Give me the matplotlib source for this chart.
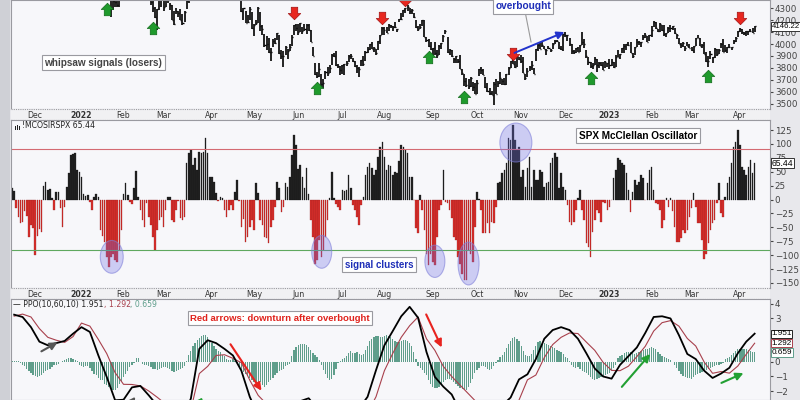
import numpy as np
import pandas as pd
import matplotlib
matplotlib.use("Agg")
import matplotlib.pyplot as plt
from matplotlib.patches import Ellipse, Rectangle
from matplotlib.path import Path

# trading calendar (NYSE holidays in the window)
holidays = ["2021-11-25", "2021-12-24", "2022-01-17", "2022-02-21", "2022-04-15",
            "2022-05-30", "2022-06-20", "2022-07-04", "2022-09-05", "2022-11-24",
            "2022-12-26", "2023-01-02", "2023-01-16", "2023-02-20", "2023-04-07"]
dates = pd.bdate_range("2021-11-15", "2023-04-13", freq="C", holidays=holidays)

# ---- SPX daily bars ----
close = [
    4682, 4701, 4689, 4705, 4698, 4682, 4690, 4701, 4595, 4655, 4567,
    4513, 4577, 4538, 4592, 4686, 4701, 4667, 4712, 4669, 4635, 4709, 4669, 4621, 4568, 4649, 4697, 4726, 4791, 4786, 4793, 4778, 4766,
    4797, 4794, 4701, 4696, 4677, 4670, 4713, 4726, 4659, 4663, 4577, 4533, 4483, 4398, 4410, 4357, 4350, 4327, 4432, 4516,
    4546, 4589, 4477, 4501, 4484, 4522, 4587, 4504, 4419, 4402, 4472, 4475, 4380, 4349, 4304, 4226, 4288, 4385, 4374,
    4306, 4387, 4364, 4329, 4201, 4171, 4278, 4260, 4204, 4173, 4263, 4358, 4412, 4463, 4461, 4512, 4456, 4520, 4543, 4576, 4632, 4603, 4530,
    4546, 4583, 4526, 4481, 4500, 4488, 4413, 4397, 4447, 4393, 4391, 4463, 4460, 4394, 4272, 4297, 4176, 4184, 4288, 4132,
    4155, 4175, 4301, 4147, 4123, 3991, 4001, 3935, 3930, 4024, 4008, 4089, 3923, 3901, 3901, 3974, 3941, 3979, 4058, 4158, 4132,
    4101, 4177, 4109, 4121, 4161, 4116, 4018, 3901, 3750, 3735, 3790, 3667, 3675, 3765, 3760, 3796, 3912, 3900, 3822, 3819, 3785,
    3825, 3831, 3845, 3903, 3899, 3855, 3819, 3802, 3790, 3863, 3831, 3937, 3960, 3999, 3962, 3967, 3921, 4024, 4073, 4130,
    4119, 4091, 4155, 4152, 4145, 4140, 4122, 4210, 4208, 4280, 4297, 4305, 4275, 4284, 4228, 4138, 4128, 4141, 4199, 4058, 4031, 3986, 3955,
    3967, 3924, 3908, 3980, 4006, 4067, 4110, 3932, 3946, 3901, 3873, 3900, 3856, 3790, 3758, 3693, 3655, 3647, 3719, 3640, 3586,
    3678, 3791, 3783, 3745, 3640, 3612, 3589, 3577, 3670, 3583, 3677, 3720, 3695, 3666, 3753, 3798, 3859, 3831, 3807, 3901, 3872,
    3856, 3760, 3720, 3771, 3807, 3828, 3749, 3957, 3993, 3957, 3992, 3959, 3947, 3965, 3950, 4003, 4027, 4026, 3964, 3958, 4080,
    4077, 4072, 3999, 3942, 3933, 3964, 3934, 3991, 4019, 3996, 3896, 3852, 3818, 3821, 3879, 3823, 3845, 3829, 3783, 3850, 3840,
    3825, 3853, 3808, 3895, 3893, 3919, 3970, 3983, 3999, 3991, 3929, 3899, 3972, 4019, 4017, 4016, 4060, 4071, 4018, 4077,
    4119, 4180, 4136, 4111, 4164, 4118, 4082, 4090, 4137, 4136, 4148, 4090, 4079, 3997, 3991, 4012, 3970, 3982, 3970,
    3951, 3982, 4046, 4048, 3986, 3992, 3918, 3862, 3855, 3920, 3892, 3960, 3917, 3951, 4003, 3937, 3948, 3971, 3977, 3971, 4028, 4051, 4109,
    4125, 4101, 4091, 4105, 4109, 4108, 4092, 4146.22,
]
hi = [
    4697, 4714, 4703, 4707, 4718, 4744, 4702, 4703, 4657, 4673, 4646,
    4608, 4595, 4608, 4612, 4695, 4705, 4695, 4713, 4710, 4660, 4712, 4752, 4665, 4591, 4651, 4699, 4740, 4791, 4807, 4805, 4808, 4787,
    4797, 4818, 4797, 4726, 4708, 4671, 4715, 4749, 4745, 4666, 4632, 4611, 4611, 4495, 4417, 4411, 4454, 4429, 4433, 4516,
    4546, 4595, 4540, 4528, 4522, 4531, 4588, 4588, 4527, 4426, 4473, 4490, 4456, 4395, 4363, 4307, 4295, 4385, 4385,
    4375, 4401, 4416, 4342, 4327, 4276, 4300, 4276, 4292, 4247, 4272, 4358, 4412, 4465, 4481, 4522, 4501, 4520, 4546, 4576, 4637, 4627, 4603,
    4550, 4586, 4594, 4504, 4522, 4521, 4463, 4471, 4453, 4453, 4411, 4471, 4489, 4512, 4385, 4299, 4279, 4240, 4309, 4269,
    4170, 4201, 4308, 4270, 4158, 4082, 4068, 4050, 3964, 4039, 4047, 4090, 4076, 3946, 3944, 3982, 3956, 4000, 4076, 4158, 4169,
    4166, 4177, 4142, 4168, 4164, 4164, 4120, 3975, 3839, 3764, 3838, 3749, 3707, 3779, 3809, 3823, 3913, 3927, 3945, 3837, 3818,
    3829, 3833, 3855, 3911, 3919, 3880, 3856, 3829, 3805, 3863, 3903, 3940, 3975, 4001, 4013, 3976, 3961, 4026, 4079, 4141,
    4140, 4141, 4167, 4161, 4152, 4187, 4126, 4211, 4258, 4280, 4301, 4325, 4302, 4292, 4259, 4201, 4149, 4167, 4203, 4203, 4062, 4044, 4015,
    3970, 4019, 3948, 3988, 4010, 4077, 4119, 4062, 3960, 3950, 3880, 3902, 3877, 3907, 3789, 3749, 3716, 3705, 3727, 3687, 3671,
    3698, 3791, 3812, 3793, 3727, 3676, 3633, 3608, 3685, 3711, 3689, 3763, 3707, 3716, 3753, 3807, 3862, 3887, 3860, 3905, 3893,
    3911, 3894, 3750, 3796, 3814, 3860, 3796, 3958, 4002, 4008, 4029, 3984, 3955, 3980, 3962, 4005, 4034, 4034, 4013, 3980, 4080,
    4101, 4077, 4052, 4001, 3951, 3966, 3977, 3991, 4101, 4039, 3951, 3892, 3854, 3839, 3889, 3876, 3846, 3846, 3848, 3859, 3840,
    3879, 3874, 3852, 3907, 3951, 3919, 3970, 3998, 4004, 4016, 4015, 3928, 3973, 4039, 4028, 4020, 4072, 4094, 4068, 4077,
    4148, 4195, 4183, 4129, 4176, 4160, 4157, 4095, 4138, 4156, 4149, 4136, 4083, 4051, 4010, 4018, 3983, 4019, 3996,
    3972, 3984, 4048, 4079, 4051, 4000, 4015, 3935, 3897, 3938, 3894, 3965, 3959, 3956, 4010, 4039, 3991, 3973, 3999, 3979, 4030, 4056, 4110,
    4133, 4126, 4100, 4109, 4109, 4125, 4134, 4151,
]
lo = [
    4672, 4684, 4683, 4672, 4694, 4681, 4652, 4672, 4590, 4626, 4564,
    4510, 4504, 4496, 4540, 4611, 4670, 4665, 4671, 4667, 4608, 4612, 4666, 4600, 4532, 4584, 4643, 4703, 4733, 4780, 4778, 4775, 4765,
    4758, 4774, 4700, 4671, 4663, 4582, 4637, 4708, 4653, 4582, 4568, 4531, 4483, 4396, 4222, 4287, 4309, 4309, 4309, 4415,
    4483, 4547, 4475, 4451, 4476, 4482, 4544, 4492, 4417, 4365, 4429, 4430, 4378, 4328, 4267, 4221, 4114, 4287, 4309,
    4279, 4306, 4345, 4284, 4199, 4157, 4247, 4224, 4200, 4162, 4187, 4288, 4344, 4394, 4424, 4465, 4455, 4469, 4501, 4518, 4590, 4581, 4530,
    4517, 4539, 4518, 4450, 4451, 4487, 4409, 4393, 4400, 4392, 4372, 4390, 4456, 4384, 4267, 4201, 4175, 4173, 4199, 4128,
    4063, 4156, 4176, 4107, 4077, 3975, 3952, 3928, 3859, 3975, 3999, 4034, 3913, 3876, 3810, 3909, 3875, 3942, 3985, 4077, 4110,
    4074, 4098, 4080, 4109, 4080, 4110, 4017, 3900, 3745, 3715, 3728, 3640, 3637, 3705, 3733, 3759, 3822, 3889, 3820, 3799, 3738,
    3752, 3744, 3814, 3850, 3878, 3850, 3811, 3759, 3723, 3818, 3818, 3860, 3929, 3947, 3955, 3936, 3911, 3946, 4002, 4079,
    4079, 4090, 4108, 4135, 4108, 4134, 4097, 4182, 4202, 4228, 4256, 4277, 4253, 4254, 4218, 4131, 4110, 4123, 4147, 4057, 4017, 3977, 3954,
    3904, 3907, 3886, 3906, 3957, 4018, 4083, 3929, 3906, 3889, 3838, 3838, 3838, 3789, 3745, 3647, 3644, 3624, 3640, 3610, 3584,
    3584, 3732, 3752, 3739, 3637, 3599, 3574, 3575, 3491, 3582, 3645, 3668, 3657, 3657, 3659, 3744, 3801, 3831, 3804, 3809, 3863,
    3843, 3759, 3698, 3721, 3772, 3781, 3748, 3860, 3939, 3956, 3971, 3955, 3907, 3956, 3933, 3956, 4002, 4020, 3962, 3950, 3940,
    4056, 4026, 3984, 3918, 3918, 3922, 3934, 3937, 3994, 3966, 3880, 3827, 3800, 3792, 3828, 3765, 3797, 3813, 3783, 3800, 3805,
    3795, 3818, 3802, 3810, 3890, 3877, 3926, 3925, 3946, 3984, 3925, 3885, 3911, 3971, 3994, 3973, 4035, 4049, 4015, 4021,
    4060, 4142, 4124, 4103, 4098, 4111, 4070, 4060, 4092, 4096, 4114, 4087, 4042, 3996, 3970, 3972, 3943, 3981, 3969,
    3940, 3928, 3980, 4046, 3984, 3970, 3915, 3847, 3809, 3873, 3838, 3882, 3901, 3916, 3966, 3937, 3932, 3924, 3970, 3951, 3999, 4013, 4059,
    4101, 4086, 4073, 4070, 4074, 4102, 4090, 4099,
]

# ---- McClellan Oscillator ----
mco = [
    20, 15, -16, -31, -43, -40, -20, -30, -67, -45,
    -52, -100, -65, -53, -59, 24, 32, 18, 19, 3,
    -19, 14, 14, -16, -49, -14, 23, 47, 80, 82,
    83, 53, 50, 40, 10, 7, 8, -4, -19, 5,
    10, 5, -55, -65, -76, -103, -121, -103, -97, -109,
    -112, -90, -55, 10, 30, 8, -5, -8, 20, 52,
    5, -19, -37, -49, -7, -31, -46, -67, -91, -55,
    -37, -31, -49, -19, 4, 4, -37, -40, -19, -3,
    -34, -37, -31, 65, 83, 89, 62, 74, 53, 86,
    83, 86, 110, 83, 40, 40, 32, 11, -2, 4,
    2, -19, -31, -19, -10, -19, 14, 35, -2, -50,
    -35, -76, -67, -49, -37, -55, 29, 11, -37, -46,
    -67, -70, -79, -50, -37, -13, 32, 20, -22, -13,
    29, 23, 41, 80, 116, 98, 55, 62, 40, 20,
    56, 10, -37, -67, -115, -109, -73, -103, -91, -67,
    -37, 2, 50, 2, -8, -13, -19, 18, 16, 17,
    44, 20, -10, -19, -31, -46, -10, 5, 44, 59,
    66, 56, 44, 53, 77, 95, 104, 77, 53, 62,
    61, 44, 50, 47,
    70, 98, 95, 89, 83, 41, 41, -1, -52, -61,
    9, -19, -55, -97, -118, -97, -112, -118, -67, -19,
    -10, 53, -5, -7, -19, -34, -67, -73, -103, -115,
    -133, -145, -145, -91, -97, -112, -49, 14, 1, -19,
    -61, -61, -43, -61, -40, -43, -13, 30, 32, 47,
    53, 65, 110, 107, 134, 107, 89, 95, 40, 53,
    23, 56, 77, 23, 53, 35, 35, 53, 50, 23,
    29, 32, 65, 74, 83, 77, 20, 47, 23, 17,
    -10, -40, -45, -40, -19, 2, 17, -19, -37, -79,
    -85, -103, -58, -37, -19, -25, -40, -5, -7, -19,
    -13, -1, 38, 53, 74, 71, 65, 62, 47, 17,
    -22, 14, 35, 26, 32, 44, 38, -1, 29, 53,
    59, 17, -7, -8, -19, -52, -37, 3, -13, 2,
    -20, -49, -76, -76, -70, -55, -61, -55, -31, -16,
    11, -13, -43, -43, -73, -106, -97, -79, -55, -43,
    -37, -7, 29, -25, -31, 5, 29, 41, 65, 95,
    104, 125, 98, 59, 53, 44, 59, 71, 47, 65.44,
]

# ---- PPO(10,60,10) ----
ppo_hist = [
    0.1, 0.1, 0.1, 0.05, -0.05, -0.2, -0.3, -0.46, -0.6, -0.75,
    -0.9, -1.0, -1.02, -0.95, -0.87, -0.78, -0.63, -0.54, -0.46, -0.32,
    -0.23, -0.23, -0.12, 0.0, 0.05, 0.12, 0.23, 0.3, 0.27, 0.2,
    0.15, 0.05, -0.18, -0.28, -0.33, -0.28, -0.25, -0.4, -0.65, -0.82,
    -0.9, -1.1, -1.26, -1.26, -1.55, -1.61, -1.75, -1.88, -1.95, -1.9,
    -1.8, -1.55, -1.3, -1.03, -0.8, -0.6, -0.37, -0.2, -0.05, 0.3,
    0.25, 0.0, -0.14, -0.19, -0.23, -0.3, -0.37, -0.45, -0.5, -0.57,
    -0.49, -0.4, -0.34, -0.37, -0.42, -0.5, -0.63, -0.66, -0.6, -0.53,
    -0.45, -0.39, -0.25, 0.05, 0.5, 0.78, 1.1, 1.3, 1.5, 1.68,
    1.77, 1.84, 1.84, 1.75, 1.52, 1.3, 1.08, 0.87, 0.75, 0.67,
    0.5, 0.4, 0.23, 0.15, 0.11, 0.2, 0.05, -0.15, -0.42, -0.55,
    -0.69, -0.85, -1.0, -1.13, -1.27, -1.4, -1.47, -1.43, -1.4, -1.62,
    -1.7, -1.61, -1.4, -1.22, -1.07, -0.9, -0.78, -0.63, -0.53, -0.46,
    -0.3, -0.18, -0.11, 0.4, 0.85, 1.0, 1.15, 1.26, 1.26, 1.23,
    1.17, 1.0, 0.8, 0.62, 0.45, 0.32, 0.15, -0.2, -0.57, -0.85,
    -1.1, -1.24, -1.15, -0.9, -0.45, -0.1, 0.1, 0.18, 0.26, 0.38,
    0.6, 0.78, 0.6, 0.63, 0.67, 0.52, 0.5, 0.57, 0.85, 1.1,
    1.45, 1.6, 1.73, 1.82, 1.8, 1.72, 1.72, 1.76, 1.84, 1.78,
    1.7, 1.55, 1.45, 1.38,
    1.38, 1.45, 1.49, 1.49, 1.42, 1.3, 1.1, 0.7, 0.2, -0.25,
    -0.4, -0.57, -0.75, -0.9, -1.26, -1.55, -1.75, -1.82, -1.8, -1.7,
    -1.55, -1.38, -1.26, -1.2, -1.18, -1.24, -1.38, -1.52, -1.68, -1.78,
    -1.85, -1.92, -1.9, -1.72, -1.45, -1.2, -0.75, -0.55, -0.44, -0.28,
    -0.27, -0.34, -0.5, -0.57, -0.48, -0.25, -0.05, 0.15, 0.32, 0.5,
    0.7, 0.95, 1.26, 1.47, 1.63, 1.7, 1.6, 1.42, 1.1, 0.75,
    0.46, 0.38, 0.4, 0.55, 0.8, 1.12, 1.4, 1.45, 1.37, 1.3,
    1.23, 1.15, 1.08, 1.0, 0.93, 0.86, 0.79, 0.7, 0.55, 0.34,
    0.26, 0.1, -0.23, -0.37, -0.43, -0.36, -0.45, -0.6, -0.66, -0.77,
    -0.92, -1.06, -1.18, -1.25, -1.2, -1.13, -1.06, -0.97, -0.9, -0.83,
    -0.75, -0.57, -0.42, -0.2, 0.3, 0.4, 0.5, 0.65, 0.69, 0.69,
    0.69, 0.65, 0.58, 0.63, 0.7, 0.78, 0.86, 0.92, 0.92, 0.96,
    1.03, 0.97, 0.88, 0.72, 0.57, 0.44, 0.36, 0.28, 0.23, 0.15,
    0.02, -0.2, -0.4, -0.62, -0.85, -0.98, -1.04, -1.07, -1.12, -1.15,
    -1.02, -0.9, -0.82, -0.75, -0.69, -0.6, -0.53, -0.46, -0.39, -0.32,
    -0.25, -0.23, -0.23, -0.14, -0.05, 0.23, 0.3, 0.37, 0.45, 0.6,
    0.74, 0.88, 0.92, 0.92, 0.92, 0.87, 0.8, 0.74, 0.69, 0.659,
]
# PPO and signal lines, read every 4th session (dates[1::4])
ppo_line = [
    3.26, 3.1, 2.4, 1.4, 1.15, 1.3, 1.45, 1.95, 2.4, 2.07,
    0.46, -1.03, -2.64, -2.6, -1.75, -1.65, -2.3, -3.0, -3.27, -3.96,
    -3.89, -2.52, 0.9, 1.5, 1.3, 0.9, 0.45, -0.6, -2.4, -3.7,
    -4.5, -4.4, -4.46, -3.9, -2.7, -2.5, -3.2, -4.45, -4.8, -3.9,
    -3.2, -3.2, -2.4, -0.57, 1.15, 2.14,
    3.15, 3.8, 3.05, 0.69, -1.03, -1.7, -2.24, -3.4, -3.9, -3.35,
    -3.55, -3.65, -3.0, -2.45, -1.2, -0.85, 0.2, 1.6, 2.2, 2.4,
    2.2, 1.6, 0.6, -0.45, -1.0, -1.15, -0.2, 0.4, 1.0, 2.0,
    3.1, 3.15, 3.0, 1.85, 0.55, 0.2, -0.6, -1.1, -0.8, -0.4,
    0.6, 1.4, 1.951,
]
ppo_signal = [
    3.16, 3.3, 3.1, 2.3, 1.7, 1.5, 1.35, 1.75, 2.68, 2.47,
    1.56, 0.58, -0.74, -1.54, -1.55, -1.65, -2.0, -2.43, -2.9, -3.3,
    -3.5, -3.3, -0.8, -0.3, 0.45, 0.5, 0.25, -0.05, -1.25, -2.3,
    -2.9, -3.5, -4.0, -4.3, -4.0, -3.6, -3.5, -3.6, -3.9, -4.1,
    -4.0, -3.7, -3.5, -2.4, -0.6, 0.6,
    1.7, 2.5, 3.1, 1.6, 0.8, -0.3, -1.0, -1.6, -2.2, -2.8,
    -3.2, -3.4, -3.5, -3.9, -2.62, -1.23, -0.9, 0.3, 1.2, 1.7,
    2.0, 1.96, 1.37, 0.8, -0.03, -0.58, -0.6, -0.29, 0.37, 1.08,
    2.13, 2.71, 2.85, 2.47, 1.62, 1.1, 0.0, -0.78, -0.66, -0.77,
    -0.28, 0.53, 1.292,
]

# ---- annotations (session index, value) ----
buy_i = [45, 67, 145, 198, 215, 275, 331]
buy_p = [4292, 4134, 3633, 3892, 3559, 3717, 3734]
sell_i = [134, 176, 187, 238, 346]
sell_p = [4259, 4217, 4370, 3917, 4217]
circles = [(47.4, -103, 10.9, 59), (147.2, -94, 9.5, 59), (201, -111, 9.5, 58),
           (217, -115, 10, 77), (239.5, 102.5, 15.2, 70)]

x = np.arange(len(dates))
close = np.array(close); hi = np.array(hi); lo = np.array(lo)
mco = np.array(mco)

W, H = 800, 400
fig = plt.figure(figsize=(8, 4), dpi=100, facecolor="#e8e8ec")
fig.patches.append(Rectangle((0, 0), 10 / W, 1, transform=fig.transFigure,
                             facecolor="#cfd0d6", edgecolor="none", zorder=0))

def px_axes(x0, y0, x1, y1):
    return fig.add_axes([x0 / W, 1 - y1 / H, (x1 - x0) / W, (y1 - y0) / H])

ax1 = px_axes(11, 0, 770, 109)
dt1 = px_axes(11, 109, 770, 120)
ax2 = px_axes(11, 120, 770, 288)
dt2 = px_axes(11, 288, 770, 299)
ax3 = px_axes(11, 299, 770, 400)

xlim = (-0.5, 360.3)
for a in (ax1, ax2, ax3):
    a.set_facecolor("#f7f7fa")
    a.set_xlim(xlim)
    a.set_xticks([])
    a.yaxis.tick_right()
    a.tick_params(axis="y", labelsize=6.3, length=2.5, pad=1, colors="#444444")
    for s in a.spines.values():
        s.set_color("#9a9aa0")
        s.set_linewidth(0.8)

# ---- price panel ----
ax1.vlines(x, lo, hi, color="black", lw=1.2)
ax1.hlines(close, x, x + 0.5, color="black", lw=1.0)
ax1.set_ylim(3458, 4367)
ax1.set_yticks(np.arange(3500, 4301, 100))

up = Path([(-0.26, -0.5), (0.26, -0.5), (0.26, 0.0), (0.5, 0.0), (0.0, 0.5),
           (-0.5, 0.0), (-0.26, 0.0), (-0.26, -0.5)], closed=True)
down = Path([(vx, -vy) for vx, vy in up.vertices], closed=True)
ax1.plot(buy_i, buy_p, ls="none", marker=up, ms=9, mfc="#1f9a2c", mec="#0f6a18", mew=0.5, clip_on=False)
ax1.plot(sell_i, sell_p, ls="none", marker=down, ms=9, mfc="#e8271f", mec="#a01010", mew=0.5, clip_on=False)

ax1.annotate("", xy=(263.8, 4108), xytext=(237.6, 3917),
             arrowprops=dict(arrowstyle="-|>", color="#2233cc", lw=1.4, mutation_scale=11))
ax1.plot([244, 246.7], [4259, 4017], color="#9a9a9a", lw=0.8)
box = dict(boxstyle="square,pad=0.25", fc="white", ec="#9a9aa0", lw=0.8)
ax1.text(242.9, 4317, "overbought", color="#1f2fb8", fontsize=7.3, fontweight="bold",
         family="Liberation Sans", ha="center", va="center", bbox=box, clip_on=False)
ax1.text(43.3, 3842, "whipsaw signals (losers)", color="#444444", fontsize=7.2, fontweight="bold",
         family="Liberation Sans", ha="center", va="center", bbox=box)

vbox = dict(boxstyle="square,pad=0.08", fc="white", ec="#333333", lw=0.7)
ax1.annotate("4146.22", xy=(1.0, close[-1]), xycoords=("axes fraction", "data"),
             xytext=(1, 0), textcoords="offset points", fontsize=5.6, family="Liberation Sans",
             va="center", ha="left", bbox=vbox, annotation_clip=False, zorder=5)

# ---- McClellan Oscillator panel ----
ax2.bar(x[mco >= 0], mco[mco >= 0], width=0.75, color="#222222", edgecolor="#111111", lw=0.2)
ax2.bar(x[mco < 0], mco[mco < 0], width=0.75, color="#d9302c", edgecolor="#8e1a1a", lw=0.2)
ax2.axhline(90, color="#d46a72", lw=0.8)
ax2.axhline(-90, color="#5fa85f", lw=0.8)
ax2.set_ylim(-159, 143)
ax2.set_yticks(np.arange(-150, 126, 25))
for cx, cy, cw, ch in circles:
    ax2.add_patch(Ellipse((cx, cy), cw, ch, fc=(0.45, 0.45, 0.9, 0.32), ec=(0.5, 0.5, 0.85, 0.6), lw=0.8, zorder=3))
ax2.text(297.5, 115, "SPX McClellan Oscillator", color="black", fontsize=7.2, fontweight="bold",
         family="Liberation Sans", ha="center", va="center", bbox=box)
ax2.text(174.4, -117, "signal clusters", color="#1f2fb8", fontsize=7, fontweight="bold",
         family="Liberation Sans", ha="center", va="center", bbox=box)
for k, hgt in enumerate([3, 5, 4]):
    ax2.add_patch(Rectangle((3.5 / 759 + k * 2.0 / 759, 1 - 9.5 / 168), 1.4 / 759, hgt / 168,
                            transform=ax2.transAxes, fc="#222222", ec="none"))
ax2.text(11 / 759, 1 - 6 / 168, "!MCOSIRSPX 65.44", transform=ax2.transAxes,
         fontsize=5.6, va="center", ha="left", color="#222222")
ax2.annotate("65.44", xy=(1.0, mco[-1]), xycoords=("axes fraction", "data"),
             xytext=(1, 0), textcoords="offset points", fontsize=6.2, family="Liberation Sans",
             va="center", ha="left", bbox=vbox, annotation_clip=False, zorder=5)

# ---- PPO panel ----
ax3.bar(x, ppo_hist, width=0.6, color="#5f9e8b", zorder=1)
ax3.plot(x[1::4], ppo_signal, color="#a8404c", lw=0.8, zorder=2)
ax3.plot(x[1::4], ppo_line, color="black", lw=1.3, zorder=3)
ax3.set_ylim(-2.62, 4.34)
ax3.set_yticks([-2, -1, 0, 3, 4])

arrows3 = [((12.8, 0.64), (22.8, 1.45), "#555555"),
           ((56.0, -2.9), (59.5, -2.25), "#555555"),
           ((86.0, -3.3), (91.5, -2.3), "#22a033"),
           ((103.1, 1.38), (119.3, -2.14), "#e8231f"),
           ((196.3, 3.45), (204.8, 0.83), "#e8231f"),
           ((289.0, -1.86), (304.2, 0.69), "#22a033"),
           ((336.0, -1.52), (348.9, -0.69), "#22a033")]
for (x0, y0), (x1, y1), col in arrows3:
    ax3.annotate("", xy=(x1, y1), xytext=(x0, y0), annotation_clip=False,
                 arrowprops=dict(arrowstyle="-|>", color=col, lw=1.5, mutation_scale=11))
ax3.text(127.4, 3.03, "Red arrows: downturn after overbought", color="#e0221c", fontsize=6.8,
         fontweight="bold", family="Liberation Sans", ha="center", va="center", bbox=box)

for val, txt, ec in [(ppo_line[-1], "1.951", "#222222"), (ppo_signal[-1], "1.292", "#a8404c"),
                     (ppo_hist[-1], "0.659", "#5f9e8b")]:
    ax3.annotate(txt, xy=(1.0, val), xycoords=("axes fraction", "data"),
                 xytext=(1, 0), textcoords="offset points", fontsize=5.9, family="Liberation Sans",
                 va="center", ha="left",
                 bbox=dict(boxstyle="square,pad=0.08", fc="white", ec=ec, lw=0.7),
                 annotation_clip=False, zorder=5)

# legend line of the PPO panel
fig.canvas.draw()
r = fig.canvas.get_renderer()
tx = 13 / W
for txt, col in [("\u2014 PPO(10,60,10) 1.951", "#222222"), (", 1.292", "#a8404c"), (", 0.659", "#5f9e8b")]:
    t = fig.text(tx, 1 - 304 / H, txt, fontsize=5.6, color=col, va="center", ha="left")
    tx += t.get_window_extent(r).width / W

# ---- date strips ----
month = dates.month
starts = [i for i in range(1, len(dates)) if month[i] != month[i - 1]]
for d in (dt1, dt2):
    d.set_facecolor("#f1f1f3")
    d.set_xlim(xlim)
    d.set_ylim(0, 1)
    d.set_xticks([]); d.set_yticks([])
    for s in d.spines.values():
        s.set_visible(False)
    d.axhline(0.97, color="#9a9aa0", lw=0.8, ls=(0, (1, 1)))
    d.axhline(0.03, color="#9a9aa0", lw=0.8, ls=(0, (1, 1)))
    for i in starts:
        if dates[i].month == 1:
            d.text(i, 0.45, str(dates[i].year), fontsize=5.6, fontweight="bold", ha="center", va="center", color="#333333")
        else:
            d.text(i, 0.45, dates[i].strftime("%b"), fontsize=5.6, ha="center", va="center", color="#333333")

fig.savefig("out.png", dpi=100, facecolor=fig.get_facecolor())
